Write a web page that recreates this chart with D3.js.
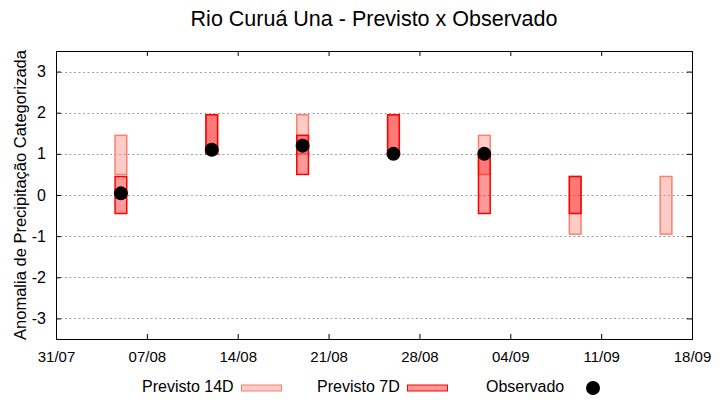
<!DOCTYPE html>
<html>
<head>
<meta charset="utf-8">
<script src="https://cdn.jsdelivr.net/npm/d3@7/dist/d3.min.js"></script>
<style>
  body { margin: 0; background: #fff; }
  svg { display: block; font-family: "Liberation Sans", Arial, sans-serif; }
</style>
</head>
<body>
<svg id="chart" width="720" height="400"></svg>
<script>
// ---- Data ----
const weeks = ["2023-08-05", "2023-08-12", "2023-08-19", "2023-08-26", "2023-09-02", "2023-09-09", "2023-09-16"];
const prev14Low  = [0.5, 1.0, 1.0, 1.0, 0.5, -0.95, -0.95];
const prev14High = [1.45, 1.95, 1.95, 1.95, 1.45, 0.45, 0.45];
const prev7Low   = [-0.45, 1.0, 0.5, 1.0, -0.45, -0.45, null];
const prev7High  = [0.45, 1.95, 1.45, 1.95, 0.95, 0.45, null];
const observed   = [0.04, 1.1, 1.2, 1.0, 1.0, null, null];
const xTickLabels = ["31/07", "07/08", "14/08", "21/08", "28/08", "04/09", "11/09", "18/09"];
const yTicks = [-3, -2, -1, 0, 1, 2, 3];

const parse = d3.utcParse("%Y-%m-%d");

const svg = d3.select("#chart");
const W = 720, H = 400;
const m = { left: 56, right: 28, top: 51, bottom: 61 };
const x0 = parse("2023-07-31"), x1 = parse("2023-09-18");
const x = d3.scaleUtc().domain([x0, x1]).range([m.left, W - m.right]);
const y = d3.scaleLinear().domain([-3.5, 3.5]).range([H - m.bottom, m.top]);

const xTickVals = d3.utcDay.range(x0, d3.utcDay.offset(x1, 1), 7);

// grid
svg.append("g").selectAll("line").data(yTicks).join("line")
  .attr("x1", m.left).attr("x2", W - m.right)
  .attr("y1", d => Math.round(y(d)) + 0.5).attr("y2", d => Math.round(y(d)) + 0.5)
  .attr("stroke", "#a0a0a0").attr("stroke-width", 1).attr("stroke-dasharray", "2,2.5");

// axes
const fontSize = 15;
const gL = svg.append("g").attr("transform", `translate(${m.left},0)`)
  .call(d3.axisLeft(y).tickValues(yTicks).tickSize(-5).tickPadding(10).tickFormat(d => String(d)));
const gR = svg.append("g").attr("transform", `translate(${W - m.right},0)`)
  .call(d3.axisRight(y).tickValues(yTicks).tickSize(-5).tickFormat(""));
const gB = svg.append("g").attr("transform", `translate(0,${H - m.bottom})`)
  .call(d3.axisBottom(x).tickValues(xTickVals).tickSize(-5).tickPadding(12)
    .tickFormat((d, i) => xTickLabels[i]));
const gT = svg.append("g").attr("transform", `translate(0,${m.top})`)
  .call(d3.axisTop(x).tickValues(xTickVals).tickSize(-5).tickFormat(""));
[gL, gR, gB, gT].forEach(g => {
  g.select(".domain").remove();
  g.selectAll(".tick line").attr("stroke", "#000").attr("stroke-width", 1);
  g.selectAll("text").attr("font-size", fontSize).attr("font-family", "Liberation Sans, Arial, sans-serif").attr("fill", "#000");
});
gL.selectAll("text").attr("font-size", 16);

// border
svg.append("rect").attr("x", m.left + 0.5).attr("y", m.top + 0.5)
  .attr("width", W - m.right - m.left).attr("height", H - m.bottom - m.top)
  .attr("fill", "none").attr("stroke", "#000").attr("stroke-width", 1);

// bars
const halfDay = 0.45 * 864e5;
const rows = weeks.map((w, i) => ({
  d: parse(w), l14: prev14Low[i], h14: prev14High[i], l7: prev7Low[i], h7: prev7High[i], o: observed[i]
}));
const plotG = svg.append("g");
plotG.selectAll("rect.p14").data(rows.filter(r => r.l14 != null)).join("rect")
  .attr("class", "p14")
  .attr("x", r => x(new Date(+r.d - halfDay)))
  .attr("width", r => x(new Date(+r.d + halfDay)) - x(new Date(+r.d - halfDay)))
  .attr("y", r => y(r.h14)).attr("height", r => y(r.l14) - y(r.h14))
  .attr("fill", "rgba(250,128,114,0.4)").attr("stroke", "#fa8072").attr("stroke-width", 1.5);
plotG.selectAll("rect.p7").data(rows.filter(r => r.l7 != null)).join("rect")
  .attr("class", "p7")
  .attr("x", r => x(new Date(+r.d - halfDay)))
  .attr("width", r => x(new Date(+r.d + halfDay)) - x(new Date(+r.d - halfDay)))
  .attr("y", r => y(r.h7)).attr("height", r => y(r.l7) - y(r.h7))
  .attr("fill", "rgba(255,0,0,0.4)").attr("stroke", "#ff0000").attr("stroke-width", 1.5);
plotG.selectAll("circle.obs").data(rows.filter(r => r.o != null)).join("circle")
  .attr("class", "obs")
  .attr("cx", r => x(r.d)).attr("cy", r => y(r.o)).attr("r", 7).attr("fill", "#000");

// title
svg.append("text").attr("x", (m.left + W - m.right) / 2).attr("y", 26)
  .attr("text-anchor", "middle").attr("font-size", 21.5).text("Rio Curuá Una - Previsto x Observado");

// y label
svg.append("text").attr("transform", `translate(26,${(m.top + H - m.bottom) / 2}) rotate(-90)`)
  .attr("text-anchor", "middle").attr("font-size", 16.5).text("Anomalia de Precipitação Categorizada");

// legend
const lg = svg.append("g");
const ly = 392;
const lfs = 16;
lg.append("text").attr("x", 142).attr("y", ly).attr("font-size", lfs).text("Previsto 14D");
lg.append("rect").attr("x", 241.5).attr("y", 385).attr("width", 40).attr("height", 6)
  .attr("fill", "rgba(250,128,114,0.4)").attr("stroke", "#fa8072").attr("stroke-width", 1);
lg.append("text").attr("x", 317).attr("y", ly).attr("font-size", lfs).text("Previsto 7D");
lg.append("rect").attr("x", 407.5).attr("y", 385).attr("width", 40).attr("height", 6)
  .attr("fill", "rgba(255,0,0,0.4)").attr("stroke", "#ff0000").attr("stroke-width", 1);
lg.append("text").attr("x", 486).attr("y", ly).attr("font-size", lfs).text("Observado");
lg.append("circle").attr("cx", 593).attr("cy", 388).attr("r", 7).attr("fill", "#000");
</script>
</body>
</html>
